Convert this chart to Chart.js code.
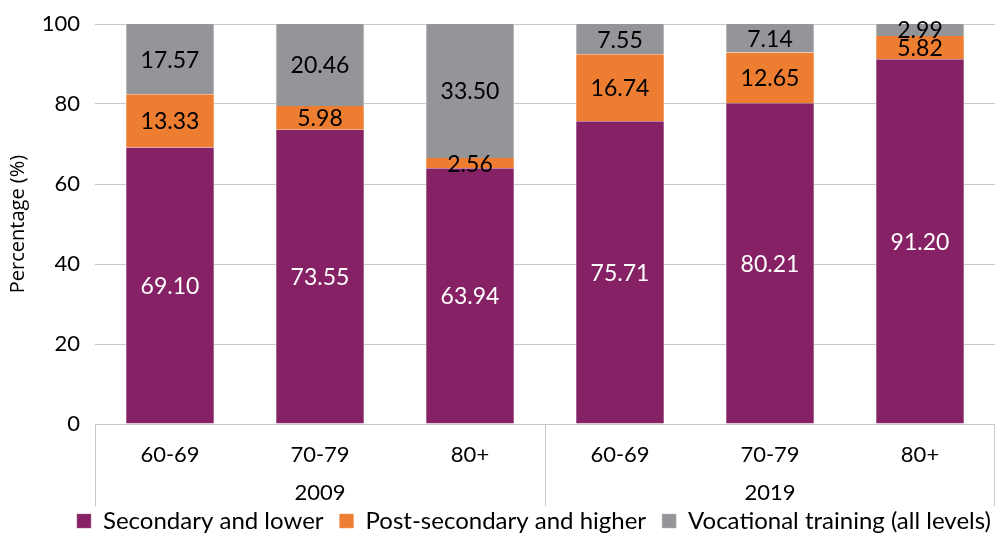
<!DOCTYPE html>
<html>
<head>
<meta charset="utf-8">
<script src="https://cdn.jsdelivr.net/npm/chart.js@4/dist/chart.umd.min.js"></script>
<style>
  html, body { margin: 0; padding: 0; background: #fff; }
  #wrap { width: 995px; height: 535px; }
</style>
</head>
<body>
<div id="wrap"><canvas id="chart" width="995" height="535"></canvas></div>
<script>
// カテゴリ（年齢層）と年
const ageGroups = ["60-69", "70-79", "80+", "60-69", "70-79", "80+"];
const years = ["2009", "2019"];

// 系列の値 (%)
const secondaryLower = [69.10, 73.55, 63.94, 75.71, 80.21, 91.20];
const postSecondary = [13.33, 5.98, 2.56, 16.74, 12.65, 5.82];
const vocational = [17.57, 20.46, 33.50, 7.55, 7.14, 2.99];

const yTicks = [0, 20, 40, 60, 80, 100];

const FONT = "Lato, 'Open Sans', sans-serif";

// 棒の中に値を描くプラグイン
const valueLabels = {
  id: "valueLabels",
  afterDatasetsDraw(chart) {
    const ctx = chart.ctx;
    ctx.save();
    ctx.font = "23px " + FONT;
    ctx.textAlign = "center";
    ctx.textBaseline = "middle";
    chart.data.datasets.forEach((ds, i) => {
      const meta = chart.getDatasetMeta(i);
      meta.data.forEach((bar, j) => {
        const v = ds.data[j];
        ctx.fillStyle = i === 0 ? "#ffffff" : "#000000";
        ctx.fillText(v.toFixed(2), bar.x, (bar.y + bar.base) / 2 + 1);
      });
    });
    ctx.restore();
  }
};

// 年ごとの区切り線
const groupLines = {
  id: "groupLines",
  afterDraw(chart) {
    const ctx = chart.ctx;
    const area = chart.chartArea;
    const step = (area.right - area.left) / ageGroups.length;
    const xs = [area.left, area.left + step * 3, area.right - 1];
    ctx.save();
    ctx.strokeStyle = "#c8c8c8";
    ctx.lineWidth = 1;
    xs.forEach(x => {
      ctx.beginPath();
      ctx.moveTo(Math.round(x) + 0.5, area.bottom);
      ctx.lineTo(Math.round(x) + 0.5, area.bottom + 82);
      ctx.stroke();
    });
    ctx.restore();
  }
};

// 凡例の高さと位置を調整
const legendFit = {
  id: "legendFit",
  beforeInit(chart) {
    const fit = chart.legend.fit;
    chart.legend.fit = function () {
      fit.bind(chart.legend)();
      this.height = 30;
    };
  },
  afterLayout(chart) {
    const lg = chart.legend;
    lg.top -= 12;
    lg.left += 12;
    lg.right += 12;
  }
};

const ctx = document.getElementById("chart").getContext("2d");
new Chart(ctx, {
  type: "bar",
  data: {
    labels: ageGroups,
    datasets: [
      { label: "Secondary and lower", data: secondaryLower, backgroundColor: "#862165", borderColor: "#a5658f", borderWidth: { left: 1, right: 1, top: 0, bottom: 0 } },
      { label: "Post-secondary and higher", data: postSecondary, backgroundColor: "#ed7d31", borderColor: "#f2a26e", borderWidth: { left: 1, right: 1, top: 0, bottom: 0 } },
      { label: "Vocational training (all levels)", data: vocational, backgroundColor: "#939598", borderColor: "#b8b9bb", borderWidth: { left: 1, right: 1, top: 0, bottom: 0 } }
    ]
  },
  options: {
    responsive: false,
    animation: false,
    datasets: { bar: { categoryPercentage: 1.0, barPercentage: 0.587 } },
    layout: { padding: { top: 24, right: 0, left: 6, bottom: 0 } },
    plugins: {
      legend: {
        position: "bottom",
        align: "end",
        labels: {
          font: { family: FONT, size: 24 },
          color: "#000",
          boxWidth: 14,
          boxHeight: 14,
          padding: 16,
          useBorderRadius: false
        }
      },
      tooltip: { enabled: false }
    },
    scales: {
      x: {
        stacked: true,
        grid: { display: false, drawTicks: false },
        border: { display: true, color: "#c8c8c8" },
        ticks: { font: { family: FONT, size: 22 }, color: "#000", padding: 18, maxRotation: 0 },
        afterFit: s => { s.height = 48; }
      },
      x2: {
        type: "category",
        labels: years,
        position: "bottom",
        offset: true,
        grid: { display: false, drawTicks: false },
        border: { display: false },
        ticks: { font: { family: FONT, size: 22 }, color: "#000", padding: 8 },
        afterFit: s => { s.height = 33; }
      },
      y: {
        stacked: true,
        min: 0,
        max: 100,
        afterBuildTicks: s => { s.ticks = yTicks.map(v => ({ value: v })); },
        grid: { color: "#c8c8c8", drawTicks: false },
        border: { display: false },
        ticks: { font: { family: FONT, size: 22, lineHeight: 0.5 }, color: "#000", padding: 15 },
        title: { display: true, text: "Percentage (%)", font: { family: "'Open Sans', sans-serif", size: 20 }, color: "#000", padding: 0 },
        afterFit: s => { s.width = 89; }
      }
    }
  },
  plugins: [valueLabels, groupLines, legendFit]
});
</script>
</body>
</html>
